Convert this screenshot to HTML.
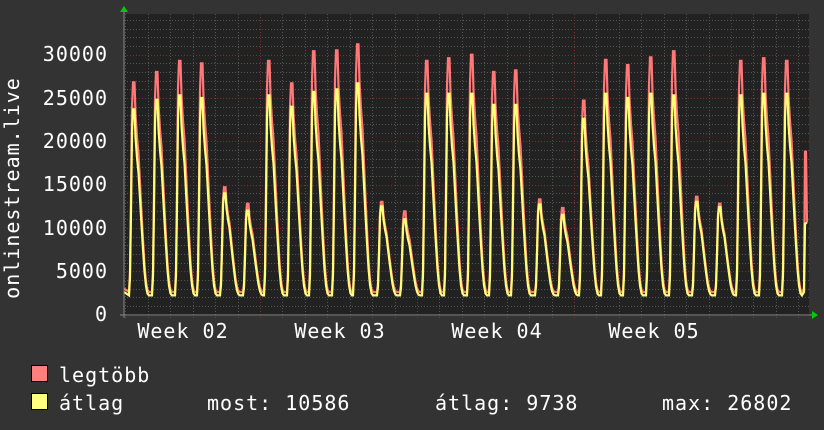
<!DOCTYPE html>
<html><head><meta charset="utf-8"><style>
body{margin:0;background:#333;}
svg{display:block}
text{font-family:"DejaVu Sans Mono","Liberation Mono",monospace;fill:#fff;letter-spacing:1px}
</style></head><body>
<svg id="s" width="824" height="430" xmlns="http://www.w3.org/2000/svg">
<rect width="824" height="430" fill="#333"/>
<rect x="124" y="14" width="685" height="302" fill="#222"/>
<g id="grid"></g>
<polyline id="mx" fill="none" stroke="#ff7777" stroke-width="2.2"/>
<polyline id="av" fill="none" stroke="#ffff77" stroke-width="2.2"/>
<line x1="120" y1="315" x2="812" y2="315" stroke="#888" stroke-width="1"/>
<line x1="124" y1="12" x2="124" y2="318" stroke="#888" stroke-width="1"/>
<polygon points="120,12 128,12 124,6" fill="#0c0"/>
<polygon points="812,311 812,319 818,315" fill="#0c0"/>
<g font-size="20" text-anchor="end">
<text x="108" y="61">30000</text>
<text x="108" y="105">25000</text>
<text x="108" y="148">20000</text>
<text x="108" y="191">15000</text>
<text x="108" y="235">10000</text>
<text x="108" y="278">5000</text>
<text x="108" y="321">0</text>
</g>
<g font-size="20" text-anchor="middle">
<text x="183" y="338">Week 02</text>
<text x="340" y="338">Week 03</text>
<text x="497" y="338">Week 04</text>
<text x="654" y="338">Week 05</text>
</g>
<text font-size="20" transform="translate(19,188) rotate(-90)" text-anchor="middle">onlinestream.live</text>
<rect x="31.5" y="365.5" width="16" height="16" fill="#ff7f7f" stroke="#000"/>
<rect x="31.5" y="393.5" width="16" height="16" fill="#ffff7f" stroke="#000"/>
<g font-size="20">
<text x="59" y="382">legtöbb</text>
<text x="59" y="410">átlag</text>
<text x="207" y="410">most: 10586</text>
<text x="435" y="410">átlag: 9738</text>
<text x="662" y="410">max: 26802</text>
</g>
</svg>
<script>
var ns="http://www.w3.org/2000/svg",g=document.getElementById('grid');
function ln(x1,y1,x2,y2,c){var l=document.createElementNS(ns,'line');l.setAttribute('x1',x1);l.setAttribute('y1',y1);l.setAttribute('x2',x2);l.setAttribute('y2',y2);l.setAttribute('stroke',c);l.setAttribute('stroke-dasharray','1,2');g.appendChild(l);}
function Y(v){return 314.5-v*0.00866;}
for(var v=1000;v<=34000;v+=1000){var y=Math.round(Y(v))+0.5;ln(124,y,809,y,v%5000==0?'#7a3030':'#555');}
for(var k=-6;k<40;k++){var x=Math.round(260+k*22.43)+0.5;if(x<=124||x>809)continue;ln(x,14,x,318,(k%7==0)?'#7a3030':'#555');}
var P=[[134,26800,23700],[157,28000,24800],[180,29300,25300],[202,29000,25000],[225,14700,14000],[248,12800,12000],[269,29300,25300],[292,26700,24000],[314,30400,25700],[337,30500,26000],[358,31200,26700],[382,13000,12500],[405,11900,11000],[427,29300,25500],[449,29600,25500],[472,30000,25500],[494,28000,24200],[516,28200,24200],[540,13300,12700],[563,12300,11500],[584,24700,22600],[606,29400,25500],[628,28800,25000],[651,29700,25500],[674,30400,25300],[697,13600,13000],[720,12800,12400],[741,29300,25300],[764,29600,25500],[787,29300,25500]];
var K=[[-5,0],[-4,0.1],[-3,0.45],[-2,0.88],[-1,1],[0.5,1],[1.5,0.85],[3,0.74],[4.5,0.66],[6,0.52],[7.5,0.38],[9,0.25],[10.5,0.13],[12,0.05],[13.5,0.01],[15,0]];
function build(idx,mn){var pts=[[124,idx==1?3000:2600]];P.forEach(function(p){K.forEach(function(k){var x=p[0]+k[0];if(x<124||x>809)return;pts.push([x,mn+(p[idx]-mn)*k[1]]);});});
if(idx==1){pts.push([804,3000]);pts.push([805,18800]);pts.push([806,18800]);pts.push([807,10600]);}
else{pts.push([804,2600]);pts.push([805,10500]);pts.push([807,10586]);}
return pts.map(function(p){return p[0].toFixed(1)+','+Y(p[1]).toFixed(1)}).join(' ');}
document.getElementById('mx').setAttribute('points',build(1,2600));
document.getElementById('av').setAttribute('points',build(2,2200));
</script>
</body></html>
